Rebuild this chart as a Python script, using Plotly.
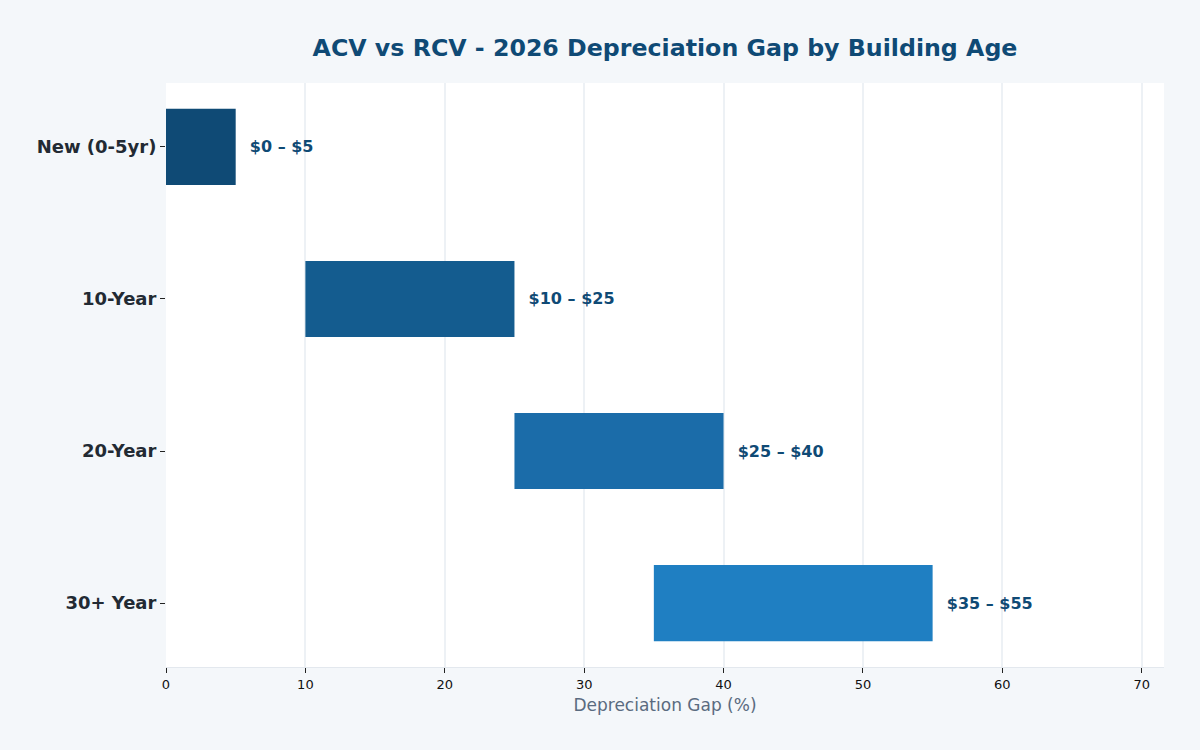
import plotly.graph_objects as go

categories = ["New (0-5yr)", "10-Year", "20-Year", "30+ Year"]
gap_low = [0, 10, 25, 35]
gap_high = [5, 25, 40, 55]
labels = ["$0 – $5", "$10 – $25", "$25 – $40", "$35 – $55"]
colors = ["#0f4a75", "#145c8f", "#1b6ca9", "#1f7fc2"]

fig = go.Figure(go.Bar(
    y=categories,
    x=[h - l for l, h in zip(gap_low, gap_high)],
    base=gap_low,
    orientation="h",
    width=0.5,
    marker=dict(color=colors, line=dict(width=0)),
    text=["\u00a0\u00a0" + t for t in labels],
    textposition="outside",
    textfont=dict(family="DejaVu Sans", size=16, color="#0f4a75", weight="bold"),
    cliponaxis=False,
    hoverinfo="skip",
))

fig.update_layout(
    width=1200, height=750,
    paper_bgcolor="#f4f7fa",
    plot_bgcolor="#ffffff",
    margin=dict(l=166, r=36, t=83, b=83),
    font=dict(family="DejaVu Sans"),
    title=dict(
        text="<b>ACV vs RCV - 2026 Depreciation Gap by Building Age</b>",
        x=0.5, xref="paper", y=0.937, yanchor="middle",
        font=dict(family="DejaVu Sans", size=23.7, color="#0f4a75"),
    ),
    showlegend=False,
    bargap=0.5,
)
fig.update_xaxes(
    range=[0, 71.6],
    dtick=10,
    showgrid=True, gridcolor="#edf1f5", gridwidth=1.5,
    zeroline=False,
    showline=True, linecolor="#e3e8ee",
    ticks="outside", ticklen=5, tickcolor="#222",
    tickfont=dict(size=13, color="#111"),
    title=dict(text="Depreciation Gap (%)", font=dict(size=17, color="#5a6b80"), standoff=8),
)
fig.update_yaxes(
    range=[3.42, -0.42],
    showgrid=False,
    zeroline=False,
    ticks="outside", ticklen=5, tickcolor="#222",
    tickfont=dict(size=18, color="#222a33", weight="bold"),
)

fig.write_html("out.html")
